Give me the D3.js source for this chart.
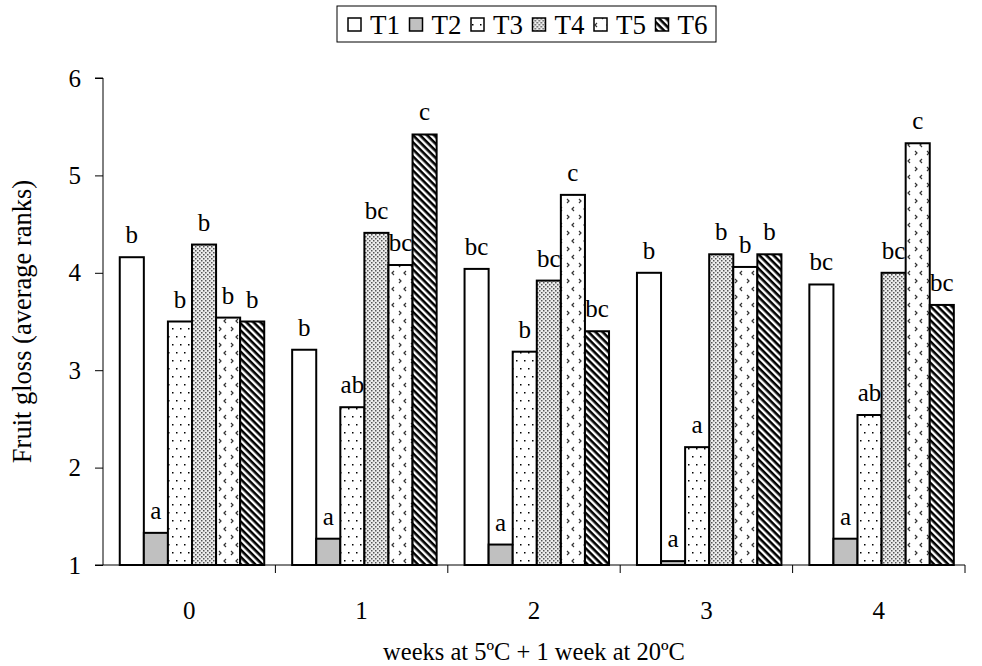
<!DOCTYPE html>
<html>
<head>
<meta charset="utf-8">
<script src="https://cdn.jsdelivr.net/npm/d3@7"></script>
<style>
    body { margin: 0; background: #fff; }
</style>
</head>
<body>
<div id="chart"></div>
<script>
//Datos
let weeks = ['0', '1', '2', '3', '4'];
let series = ['T1', 'T2', 'T3', 'T4', 'T5', 'T6'];
let valuesT1 = [4.16, 3.21, 4.04, 4.00, 3.88];
let valuesT2 = [1.33, 1.27, 1.21, 1.04, 1.27];
let valuesT3 = [3.50, 2.62, 3.19, 2.21, 2.54];
let valuesT4 = [4.29, 4.41, 3.92, 4.19, 4.00];
let valuesT5 = [3.54, 4.08, 4.80, 4.06, 5.33];
let valuesT6 = [3.50, 5.42, 3.40, 4.19, 3.67];
let lettersT1 = ['b', 'b', 'bc', 'b', 'bc'];
let lettersT2 = ['a', 'a', 'a', 'a', 'a'];
let lettersT3 = ['b', 'ab', 'b', 'a', 'ab'];
let lettersT4 = ['b', 'bc', 'bc', 'b', 'bc'];
let lettersT5 = ['b', 'bc', 'c', 'b', 'c'];
let lettersT6 = ['b', 'c', 'bc', 'b', 'bc'];
let yTicks = [1, 2, 3, 4, 5, 6];

let allValues = [valuesT1, valuesT2, valuesT3, valuesT4, valuesT5, valuesT6];
let allLetters = [lettersT1, lettersT2, lettersT3, lettersT4, lettersT5, lettersT6];

let data = [];
weeks.forEach(function(w, i) {
    series.forEach(function(s, j) {
        data.push({week: w, serie: s, value: allValues[j][i], letter: allLetters[j][i]});
    });
});

let font = 'Liberation Serif, Times New Roman, serif';

let svg = d3.select('#chart').append('svg')
    .attr('width', 982).attr('height', 666)
    .attr('font-family', font);

//Patrones
let defs = svg.append('defs');

let p3 = defs.append('pattern').attr('id', 'pat-T3').attr('patternUnits', 'userSpaceOnUse')
    .attr('width', 8).attr('height', 16);
p3.append('rect').attr('width', 8).attr('height', 16).attr('fill', '#fff');
p3.append('rect').attr('x', 1).attr('y', 2).attr('width', 1.5).attr('height', 1.5).attr('fill', '#000');
p3.append('rect').attr('x', 5).attr('y', 10).attr('width', 1.5).attr('height', 1.5).attr('fill', '#000');

let p4 = defs.append('pattern').attr('id', 'pat-T4').attr('patternUnits', 'userSpaceOnUse')
    .attr('width', 4).attr('height', 4);
p4.append('rect').attr('width', 4).attr('height', 4).attr('fill', '#ececec');
p4.append('rect').attr('x', 0).attr('y', 0).attr('width', 1.5).attr('height', 1.5).attr('fill', '#555');
p4.append('rect').attr('x', 2).attr('y', 2).attr('width', 1.5).attr('height', 1.5).attr('fill', '#555');

let p5 = defs.append('pattern').attr('id', 'pat-T5').attr('patternUnits', 'userSpaceOnUse')
    .attr('width', 12).attr('height', 16);
p5.append('rect').attr('width', 12).attr('height', 16).attr('fill', '#fff');
p5.append('path').attr('d', 'M3,1 L1,3 L3,5').attr('stroke', '#333').attr('stroke-width', 1.2).attr('fill', 'none');
p5.append('path').attr('d', 'M8,9 L10,11 L8,13').attr('stroke', '#333').attr('stroke-width', 1.2).attr('fill', 'none');

let p6 = defs.append('pattern').attr('id', 'pat-T6').attr('patternUnits', 'userSpaceOnUse')
    .attr('width', 5).attr('height', 5).attr('patternTransform', 'rotate(45)');
p6.append('rect').attr('width', 5).attr('height', 5).attr('fill', '#fff');
p6.append('rect').attr('width', 5).attr('height', 2.6).attr('fill', '#000');

let fills = {T1: '#fff', T2: '#c0c0c0', T3: 'url(#pat-T3)', T4: 'url(#pat-T4)', T5: 'url(#pat-T5)', T6: 'url(#pat-T6)'};

//Márgenes
let margin = {top: 78, right: 17, bottom: 101, left: 103};
let width = 982 - margin.left - margin.right,
    height = 666 - margin.top - margin.bottom;

let chart = svg.append('g').attr('transform', 'translate(' + margin.left + ',' + margin.top + ')');

//Escalas
let x0 = d3.scaleBand().domain(weeks).range([0, width]).paddingInner(0).paddingOuter(0);
let x1 = d3.scaleBand().domain(series).range([0, x0.bandwidth()]).paddingInner(0).paddingOuter(0.58).align(0.6);
let y = d3.scaleLinear().domain([1, 6]).range([height, 0]);

//Eje Y
let yAxis = chart.append('g').call(d3.axisLeft(y).tickValues(yTicks).tickFormat(d3.format('d')).tickSize(8).tickPadding(14));
yAxis.attr('font-family', font);
yAxis.select('.domain').attr('stroke', '#000').attr('d', 'M-8,0H0V' + height + 'H-8');
yAxis.selectAll('.tick line').attr('stroke', '#000');
yAxis.selectAll('.tick text').attr('font-size', '25px').attr('fill', '#000');

//Barras
chart.selectAll('.bar')
    .data(data)
    .enter()
    .append('rect')
    .attr('class', 'bar')
    .attr('x', function(d) { return x0(d.week) + x1(d.serie); })
    .attr('y', function(d) { return y(d.value); })
    .attr('width', x1.bandwidth())
    .attr('height', function(d) { return height - y(d.value); })
    .attr('fill', function(d) { return fills[d.serie]; })
    .attr('stroke', '#000')
    .attr('stroke-width', 2);

//Letras
chart.selectAll('.letter')
    .data(data)
    .enter()
    .append('text')
    .attr('class', 'letter')
    .attr('x', function(d) { return x0(d.week) + x1(d.serie) + x1.bandwidth() / 2; })
    .attr('y', function(d) { return y(d.value) - 14; })
    .attr('text-anchor', 'middle')
    .attr('font-size', '25px')
    .text(function(d) { return d.letter; });

//Eje X
let xAxis = chart.append('g').attr('transform', 'translate(0,' + height + ')');
xAxis.append('line').attr('x1', 0).attr('x2', width).attr('stroke', '#000');
xAxis.selectAll('.sep')
    .data(weeks)
    .enter()
    .append('line')
    .attr('x1', function(d) { return x0(d) + x0.bandwidth(); })
    .attr('x2', function(d) { return x0(d) + x0.bandwidth(); })
    .attr('y1', 0).attr('y2', 8)
    .attr('stroke', '#000');
xAxis.selectAll('.lab')
    .data(weeks)
    .enter()
    .append('text')
    .attr('x', function(d) { return x0(d) + x0.bandwidth() / 2; })
    .attr('y', 54)
    .attr('text-anchor', 'middle')
    .attr('font-size', '25px')
    .text(function(d) { return d; });

//Títulos
svg.append('text')
    .attr('x', margin.left + width / 2)
    .attr('y', 660)
    .attr('text-anchor', 'middle')
    .attr('font-size', '24.5px')
    .text('weeks at 5ºC +  1 week at 20ºC');

svg.append('text')
    .attr('transform', 'translate(31,' + (margin.top + height / 2) + ') rotate(-90)')
    .attr('text-anchor', 'middle')
    .attr('font-size', '26.5px')
    .text('Fruit gloss (average ranks)');

//Leyenda
let legend = svg.append('g').attr('transform', 'translate(337,6)');
legend.append('rect').attr('width', 379).attr('height', 36)
    .attr('fill', '#fff').attr('stroke', '#000').attr('stroke-width', 1);
let items = legend.selectAll('.item')
    .data(series)
    .enter()
    .append('g')
    .attr('transform', function(d, i) { return 'translate(' + (11 + i * 61.5) + ',0)'; });
items.append('rect')
    .attr('y', 12).attr('width', 13).attr('height', 13)
    .attr('fill', function(d) { return fills[d]; })
    .attr('stroke', '#000').attr('stroke-width', 1.5);
items.append('text')
    .attr('x', 22).attr('y', 28)
    .attr('font-size', '27px')
    .text(function(d) { return d; });
</script>
</body>
</html>
